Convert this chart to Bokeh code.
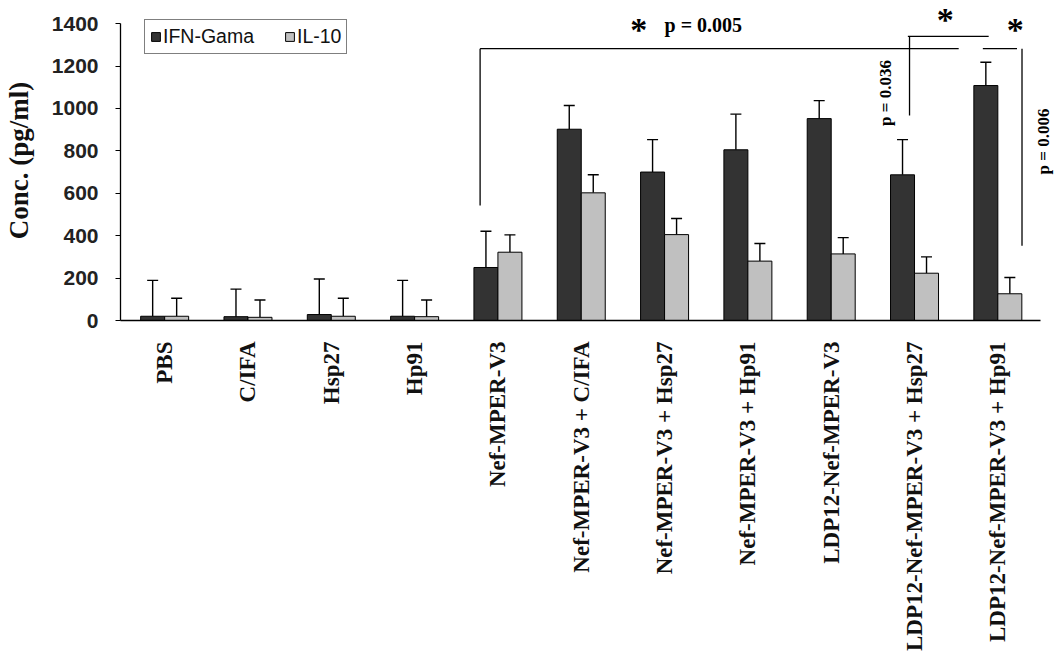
import numpy as np
from bokeh.plotting import figure
from bokeh.models import ColumnDataSource, Range1d, FixedTicker, Whisker, TeeHead
from bokeh.core.properties import value
from bokeh.embed import file_html
from bokeh.resources import INLINE

# ---------------- data ----------------
categories = ["PBS", "C/IFA", "Hsp27", "Hp91", "Nef-MPER-V3",
              "Nef-MPER-V3 + C/IFA", "Nef-MPER-V3 + Hsp27", "Nef-MPER-V3 + Hp91",
              "LDP12-Nef-MPER-V3", "LDP12-Nef-MPER-V3 + Hsp27", "LDP12-Nef-MPER-V3 + Hp91"]
ifn_gama = [20, 18, 28, 20, 250, 902, 700, 805, 952, 687, 1108]
ifn_gama_err = [169, 130, 168, 169, 171, 112, 153, 168, 85, 166, 110]
il_10 = [20, 15, 20, 18, 322, 602, 405, 280, 314, 223, 126]
il_10_err = [85, 82, 85, 79, 82, 85, 76, 83, 77, 77, 77]
y_ticks = [0, 200, 400, 600, 800, 1000, 1200, 1400]

# significance annotations (data units)
bracket_x0 = [3.786, 3.786, 9.82, 10.29, 8.94, 8.92]
bracket_x1 = [3.786, 9.53, 10.23, 10.29, 8.94, 9.89]
bracket_y0 = [542, 1282, 1282, 1282, 1340, 1340]
bracket_y1 = [1282, 1282, 1282, 353, 967, 1340]
star_x = [5.69, 9.37, 10.21]
star_y = [1461, 1506, 1461]
ptext_h = ["p = 0.005"]
ptext_h_x = [6.0]
ptext_h_y = [1395]
ptext_v = ["p = 0.036", "p = 0.006"]
ptext_v_x = [8.65, 10.55]
ptext_v_y = [1073, 844]

# ---------------- figure ----------------
n = len(categories)
idx = np.arange(n)
bw = 0.288

src = ColumnDataSource(dict(
    x_ifn=idx - bw / 2, x_il=idx + bw / 2,
    ifn=ifn_gama, il=il_10,
    ifn_up=np.array(ifn_gama) + np.array(ifn_gama_err),
    il_up=np.array(il_10) + np.array(il_10_err),
))

p = figure(width=1054, height=654, output_backend="svg", toolbar_location=None,
           x_range=Range1d(-0.53, 10.68), y_range=Range1d(0, 1509),
           min_border_left=119, min_border_right=0, min_border_top=0, min_border_bottom=334)
p.outline_line_color = None
p.xgrid.visible = False
p.ygrid.visible = False
p.background_fill_color = "white"

r1 = p.vbar(x="x_ifn", top="ifn", width=bw, source=src, fill_color="#333333",
            line_color="black", line_width=1, legend_label="IFN-Gama")
r2 = p.vbar(x="x_il", top="il", width=bw, source=src, fill_color="#c0c0c0",
            line_color="black", line_width=1, legend_label="IL-10")

for base, lo, up in (("x_ifn", "ifn", "ifn_up"), ("x_il", "il", "il_up")):
    w = Whisker(source=src, base=base, lower=lo, upper=up, dimension="height",
                line_color="black", line_width=1.4,
                upper_head=TeeHead(size=11, line_color="black", line_width=1.4),
                lower_head=None)
    p.add_layout(w)

p.segment(x0=bracket_x0, y0=bracket_y0, x1=bracket_x1, y1=bracket_y1,
          line_color="black", line_width=1.3)

p.text(x=star_x, y=star_y, text=["*"] * len(star_x), text_font=value("Liberation Serif"),
       text_font_style="bold", text_font_size="34px", text_align="center",
       text_baseline="top", text_color="black")
p.text(x=ptext_h_x, y=ptext_h_y, text=ptext_h, text_font=value("Liberation Serif"),
       text_font_style="bold", text_font_size="20px", text_align="left",
       text_baseline="middle", text_color="black")
p.text(x=ptext_v_x, y=ptext_v_y, text=ptext_v, text_font=value("Liberation Serif"),
       text_font_style="bold", text_font_size="17px", text_align="center",
       text_baseline="middle", angle=np.pi / 2, text_color="black")

# axes
xa = p.xaxis[0]
xa.ticker = FixedTicker(ticks=list(range(n)))
xa.major_label_overrides = {i: c for i, c in enumerate(categories)}
xa.major_label_orientation = np.pi / 2
xa.major_tick_out = 0
xa.major_tick_in = 0
xa.minor_tick_out = 0
xa.minor_tick_in = 0
xa.bounds = (-0.53, 10.51)
xa.axis_line_color = "black"
xa.axis_line_width = 1.3
xa.major_label_standoff = 21
xa.major_label_text_font = "Liberation Serif"
xa.major_label_text_font_style = "bold"
xa.major_label_text_font_size = "23px"
xa.major_label_text_color = "#111111"

ya = p.yaxis[0]
ya.ticker = FixedTicker(ticks=y_ticks)
ya.bounds = (0, 1400)
ya.major_tick_out = 5
ya.major_tick_in = 0
ya.minor_tick_out = 0
ya.minor_tick_in = 0
ya.axis_line_color = "black"
ya.axis_line_width = 1.3
ya.major_tick_line_color = "black"
ya.major_label_standoff = 17
ya.major_label_text_font = "Liberation Sans"
ya.major_label_text_font_style = "bold"
ya.major_label_text_font_size = "21px"
ya.major_label_text_color = "#222222"
ya.axis_label = "Conc. (pg/ml)"
ya.axis_label_standoff = 15
ya.axis_label_text_font = "Liberation Serif"
ya.axis_label_text_font_style = "bold"
ya.axis_label_text_font_size = "27px"
ya.axis_label_text_color = "#111111"

lg = p.legend[0]
lg.location = (24, 266)
lg.orientation = "horizontal"
lg.border_line_color = "black"
lg.border_line_width = 1.2
lg.background_fill_color = "white"
lg.background_fill_alpha = 1
lg.label_text_font = "Liberation Sans"
lg.label_text_font_size = "19.5px"
lg.label_text_color = "#111111"
lg.glyph_width = 11
lg.glyph_height = 11
lg.label_standoff = 2
lg.margin = 0
lg.label_height = 11
lg.padding = 5
lg.spacing = 30

open("out.html", "w").write(file_html(p, INLINE))
